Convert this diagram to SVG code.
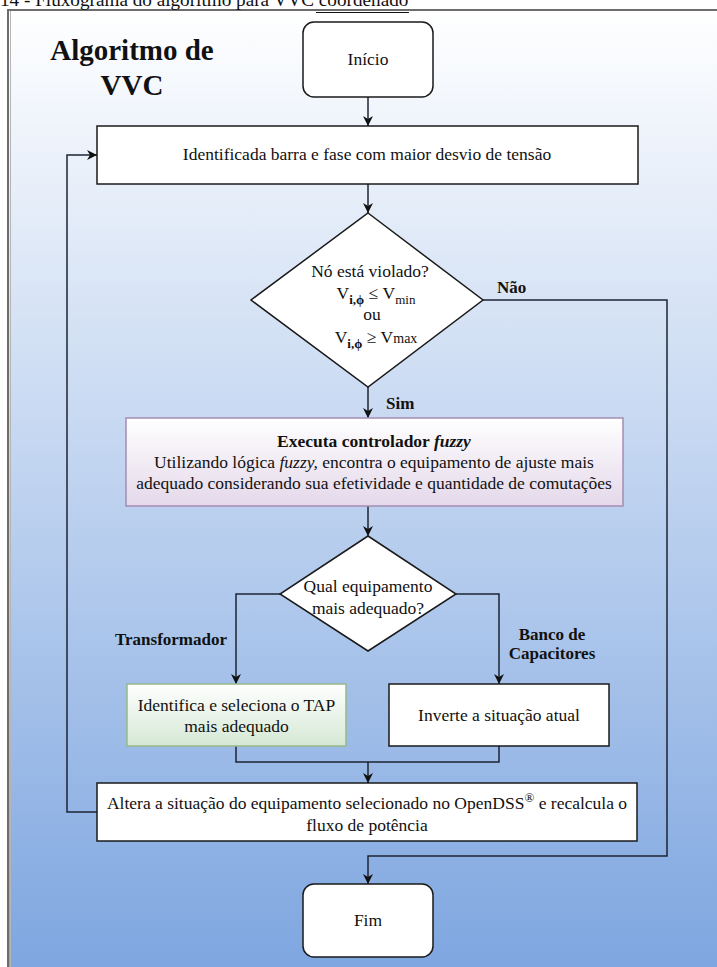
<svg xmlns="http://www.w3.org/2000/svg" width="717" height="967" viewBox="0 0 717 967" font-family="'Liberation Serif', 'Times New Roman', serif">
<defs>
<linearGradient id="bg" gradientUnits="userSpaceOnUse" x1="0" y1="10" x2="0" y2="967">
<stop offset="0" stop-color="#ffffff"/>
<stop offset="1" stop-color="#7ea6e0"/>
</linearGradient>
<linearGradient id="purple" x1="0" y1="0" x2="0" y2="1">
<stop offset="0" stop-color="#ffffff"/>
<stop offset="1" stop-color="#e4d8ea"/>
</linearGradient>
<linearGradient id="green" x1="0" y1="0" x2="0" y2="1">
<stop offset="0" stop-color="#ffffff"/>
<stop offset="1" stop-color="#d5e8d4"/>
</linearGradient>
<marker id="arr" viewBox="0 0 10 10" refX="10" refY="5" markerWidth="10" markerHeight="10" markerUnits="userSpaceOnUse" orient="auto">
<path d="M0,0 L10,5 L0,10 L3,5 z" fill="#111"/>
</marker>
</defs>
<style>
text{font-family:"Liberation Serif","Times New Roman",serif;fill:#111;}
.t{font-size:17.5px;text-anchor:middle;}
.sub{font-size:13px;font-weight:bold;}
.lb{font-size:17px;font-weight:bold;}
.box{fill:#ffffff;stroke:#1a1a1a;stroke-width:1.5;}
.conn{fill:none;stroke:#1c2433;stroke-width:1.5;}
</style>
<rect x="0" y="0" width="717" height="967" fill="#ffffff"/>
<rect id="frame" x="8" y="10" width="720" height="970" fill="url(#bg)" stroke="#6d6d6d" stroke-width="2"/>
<line x1="10.5" y1="11" x2="10.5" y2="967" stroke="#b5b5b5" stroke-width="1"/>
<g id="caption">
<text x="0" y="6" font-size="19.2">14 - Fluxograma do algoritmo para VVC coordenado</text>
<line x1="316" y1="12.5" x2="409" y2="12.5" stroke="#111" stroke-width="1.2"/>
</g>
<g id="title">
<text x="132" y="60" font-size="29" font-weight="bold" text-anchor="middle">Algoritmo de</text>
<text x="132" y="95" font-size="29" font-weight="bold" text-anchor="middle">VVC</text>
</g>
<g id="connectors">
<path class="conn" d="M368,97 V126" marker-end="url(#arr)"/>
<path class="conn" d="M368,184 V213" marker-end="url(#arr)"/>
<path class="conn" d="M368,387 V418" marker-end="url(#arr)"/>
<path class="conn" d="M368,506 V536" marker-end="url(#arr)"/>
<path class="conn" d="M280,594 H236 V684" marker-end="url(#arr)"/>
<path class="conn" d="M455,594 H499 V684" marker-end="url(#arr)"/>
<path class="conn" d="M236,746 V762 H499 V746"/>
<path class="conn" d="M368,762 V783" marker-end="url(#arr)"/>
<path class="conn" d="M97,812 H67 V155 H97" marker-end="url(#arr)"/>
<path class="conn" d="M483,300 H667 V856 H368 V884" marker-end="url(#arr)"/>
<text class="lb" x="497" y="293">Não</text>
<text class="lb" x="386" y="409">Sim</text>
<text class="lb" x="171" y="645" text-anchor="middle">Transformador</text>
<text class="lb" x="552" y="640" text-anchor="middle">Banco de</text>
<text class="lb" x="552" y="659" text-anchor="middle">Capacitores</text>
</g>
<g id="inicio">
<rect x="303" y="22" width="130" height="75" rx="11" class="box"/>
<text class="t" x="368" y="65">Início</text>
</g>
<g id="identifica">
<rect x="97" y="126" width="541" height="58" class="box"/>
<text class="t" x="367" y="160">Identificada barra e fase com maior desvio de tensão</text>
</g>
<g id="violado">
<path d="M368,213 L483,300 L368,387 L251,300 Z" class="box"/>
<text class="t" x="370" y="277">Nó está violado?</text>
<text class="t" x="376" y="299">V<tspan class="sub" dy="5">i,ϕ</tspan><tspan dy="-5"> ≤ V</tspan><tspan font-size="13" dy="5">min</tspan></text>
<text class="t" x="372" y="320">ou</text>
<text class="t" x="376" y="343">V<tspan class="sub" dy="5">i,ϕ</tspan><tspan dy="-5"> ≥ V</tspan><tspan font-size="14">max</tspan></text>
</g>
<g id="fuzzy">
<rect x="126" y="418" width="497" height="88" fill="url(#purple)" stroke="#a28db3" stroke-width="1.5"/>
<text class="t" x="374" y="447" font-weight="bold">Executa controlador <tspan font-style="italic">fuzzy</tspan></text>
<text class="t" x="374" y="468">Utilizando lógica <tspan font-style="italic">fuzzy,</tspan> encontra o equipamento de ajuste mais</text>
<text class="t" x="374" y="489">adequado considerando sua efetividade e quantidade de comutações</text>
</g>
<g id="qual">
<path d="M368,536 L456,594 L368,651 L280,594 Z" class="box"/>
<text class="t" x="368" y="592">Qual equipamento</text>
<text class="t" x="368" y="614">mais adequado?</text>
</g>
<g id="tap">
<rect x="127" y="684" width="219" height="62" fill="url(#green)" stroke="#97b98a" stroke-width="1.5"/>
<text class="t" x="236.5" y="711">Identifica e seleciona o TAP</text>
<text class="t" x="236.5" y="732">mais adequado</text>
</g>
<g id="inverte">
<rect x="389" y="684" width="220" height="62" class="box"/>
<text class="t" x="499" y="721">Inverte a situação atual</text>
</g>
<g id="altera">
<rect x="97" y="783" width="540" height="58" class="box"/>
<text class="t" x="367" y="809">Altera a situação do equipamento selecionado no OpenDSS<tspan font-size="13" dy="-7">®</tspan><tspan dy="7"> e recalcula o</tspan></text>
<text class="t" x="367" y="831">fluxo de potência</text>
</g>
<g id="fim">
<rect x="303" y="884" width="130" height="73" rx="11" class="box"/>
<text class="t" x="368" y="926">Fim</text>
</g>
</svg>
